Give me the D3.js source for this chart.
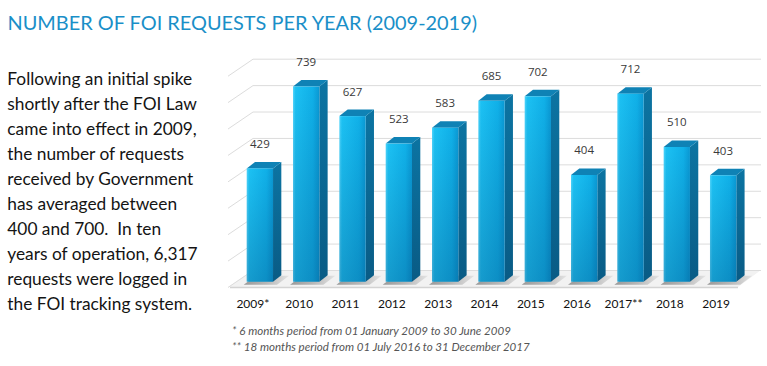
<!DOCTYPE html>
<html><head><meta charset="utf-8">
<script src="https://cdn.jsdelivr.net/npm/d3@7"></script>
<style>html,body{margin:0;padding:0;background:#fff;overflow:hidden}svg{display:block}text{white-space:pre}</style>
</head><body>
<script>
// ---- data ----
const years = ["2009","2010","2011","2012","2013","2014","2015","2016","2017","2018","2019"];
const yearLabels = ["2009*","2010","2011","2012","2013","2014","2015","2016","2017**","2018","2019"];
const requests = [429,739,627,523,583,685,702,404,712,510,403];
const gridTicks = [0,100,200,300,400,500,600,700,800];
const titleText = "NUMBER OF FOI REQUESTS PER YEAR (2009-2019)";
const bodyLines = [
  "Following an initial spike",
  "shortly after the FOI Law",
  "came into effect in 2009,",
  "the number of requests",
  "received by Government",
  "has averaged between",
  "400 and 700.  In ten",
  "years of operation, 6,317",
  "requests were logged in",
  "the FOI tracking system."
];
const footnotes = [
  "* 6 months period from 01 January 2009 to 30 June 2009",
  "** 18 months period from 01 July 2016 to 31 December 2017"
];

// ---- layout ----
const W = 767, H = 366;
const svg = d3.select("body").append("svg").attr("width", W).attr("height", H);
const defs = svg.append("defs");

function fitSize(sel, target) {
  const w = sel.node().getComputedTextLength();
  const fs = parseFloat(sel.attr("font-size"));
  return fs * target / w;
}

// title
const title = svg.append("text").attr("x", 7.5).attr("y", 29.5)
  .attr("font-family", "Lato, 'Open Sans', sans-serif").attr("font-size", 22)
  .attr("fill", "#1a8fc8").text(titleText);
title.attr("font-size", fitSize(title, 470));

// paragraph
const para = svg.append("g").attr("font-family", "Lato, 'Open Sans', sans-serif").attr("fill", "#141414");
const pLines = para.selectAll("text").data(bodyLines).join("text")
  .attr("x", 7.3).attr("y", (d, i) => 84.8 + i * 25.0).attr("font-size", 18).text(d => d);
const pfs = fitSize(d3.select(pLines.nodes()[0]), 185);
pLines.attr("font-size", pfs);

// ---- chart geometry ----
const frontBase = 281.7, backBase = 270;
const wallLeft = 253, wallRight = 761;
const sideDx = -25, sideDy = 17;
const depthDx = 8.3, depthDy = -6.5;

const h = d3.scaleLinear().domain([0, 800]).range([0, 211.3]);
const x = d3.scaleBand().domain(years).range([236.7, 746.3]).paddingInner(0.432).paddingOuter(0.216);

// floor
svg.append("path")
  .attr("d", `M${wallLeft + sideDx},${backBase + sideDy} L${wallLeft},${backBase} L${wallRight},${backBase} L${wallRight - 23},${backBase + sideDy} Z`)
  .attr("fill", "#f2f2f2");
svg.append("line").attr("x1", wallLeft + sideDx + 2).attr("x2", wallRight - 23)
  .attr("y1", backBase + sideDy + 0.5).attr("y2", backBase + sideDy + 0.5)
  .attr("stroke", "#d3d3d3").attr("stroke-width", 1.5);

// gridlines: back wall + side wall
const grid = svg.append("g").attr("stroke", "#dcdcdc").attr("stroke-width", 1).attr("fill", "none");
grid.selectAll("line.back").data(gridTicks).join("line").attr("class", "back")
  .attr("x1", wallLeft).attr("x2", wallRight)
  .attr("y1", d => backBase - h(d) + 0.5).attr("y2", d => backBase - h(d) + 0.5);
grid.selectAll("line.side").data(gridTicks).join("line").attr("class", "side")
  .attr("x1", wallLeft).attr("x2", wallLeft + sideDx)
  .attr("y1", d => backBase - h(d) + 0.5).attr("y2", d => backBase - h(d) + sideDy + 0.5);

// gradients
const gFront = defs.append("linearGradient").attr("id", "gFront").attr("x1", 0).attr("x2", 1).attr("y1", 0).attr("y2", 0);
[[0, "#4fd4fb"], [0.1, "#1cc1f3"], [0.75, "#10b0e8"], [1, "#0a98d3"]].forEach(s => gFront.append("stop").attr("offset", s[0]).attr("stop-color", s[1]));
const gShade = defs.append("linearGradient").attr("id", "gShade").attr("x1", 0).attr("x2", 0).attr("y1", 0).attr("y2", 1);
[[0, "rgba(0,40,90,0)"], [1, "rgba(0,40,90,0.25)"]].forEach(s => gShade.append("stop").attr("offset", s[0]).attr("stop-color", s[1]));
const gSide = defs.append("linearGradient").attr("id", "gSide").attr("x1", 0).attr("x2", 0).attr("y1", 0).attr("y2", 1);
[[0, "#0c74a2"], [1, "#095b85"]].forEach(s => gSide.append("stop").attr("offset", s[0]).attr("stop-color", s[1]));
const gShadow = defs.append("linearGradient").attr("id", "gShadow").attr("x1", 0).attr("x2", 1).attr("y1", 0).attr("y2", 0);
[[0, "#8f8f8f"], [0.5, "#b0b0b0"], [1, "#e2e2e2"]].forEach(s => gShadow.append("stop").attr("offset", s[0]).attr("stop-color", s[1]));

const bw = x.bandwidth();
const data = years.map((y, i) => ({ year: y, label: yearLabels[i], value: requests[i] }));

// shadows on floor
svg.append("g").selectAll("path").data(data).join("path")
  .attr("d", d => {
    const xl = x(d.year), xr = xl + bw;
    return `M${xl - 3},${frontBase + 3} L${xr + 4},${frontBase + 3} L${xr + 16},${frontBase - 6} L${xl + 9},${frontBase - 6} Z`;
  })
  .attr("fill", "url(#gShadow)").attr("opacity", 0.9);

// bars
const bars = svg.append("g").selectAll("g").data(data).join("g");
bars.append("path") // side
  .attr("d", d => {
    const xr = x(d.year) + bw, top = frontBase - h(d.value);
    return `M${xr},${top} L${xr + depthDx},${top + depthDy} L${xr + depthDx},${frontBase + depthDy} L${xr},${frontBase} Z`;
  }).attr("fill", "url(#gSide)");
bars.append("path") // top
  .attr("d", d => {
    const xl = x(d.year), xr = xl + bw, top = frontBase - h(d.value);
    return `M${xl},${top} L${xl + depthDx},${top + depthDy} L${xr + depthDx},${top + depthDy} L${xr},${top} Z`;
  }).attr("fill", "#0f82b5");
bars.append("rect") // front
  .attr("x", d => x(d.year)).attr("width", bw)
  .attr("y", d => frontBase - h(d.value)).attr("height", d => h(d.value))
  .attr("fill", "url(#gFront)");
bars.append("rect")
  .attr("x", d => x(d.year)).attr("width", bw)
  .attr("y", d => frontBase - h(d.value)).attr("height", d => h(d.value))
  .attr("fill", "url(#gShade)");

// value labels
svg.append("g").attr("font-family", "'Open Sans', sans-serif").attr("font-size", 11.5).attr("fill", "#3a3a3a")
  .attr("text-anchor", "middle")
  .selectAll("text").data(data).join("text")
  .attr("x", d => x(d.year) + bw / 2).attr("y", d => frontBase - h(d.value) - 20.5)
  .text(d => d.value);

// category labels
svg.append("g").attr("font-family", "Lato, 'Open Sans', sans-serif").attr("font-size", 12).attr("fill", "#111")
  .attr("text-anchor", "middle")
  .selectAll("text").data(data).join("text")
  .attr("x", d => x(d.year) + bw / 2 - 7).attr("y", 308)
  .text(d => d.label);

// footnotes
const fn = svg.append("g").attr("font-family", "Lato, 'Open Sans', sans-serif").attr("font-style", "italic").attr("fill", "#555");
const fLines = fn.selectAll("text").data(footnotes).join("text")
  .attr("x", 232).attr("y", (d, i) => 334.5 + i * 16).attr("font-size", 10).text(d => d);
const ffs = fitSize(d3.select(fLines.nodes()[1]), 298);
fLines.attr("font-size", ffs);
</script>
</body></html>
